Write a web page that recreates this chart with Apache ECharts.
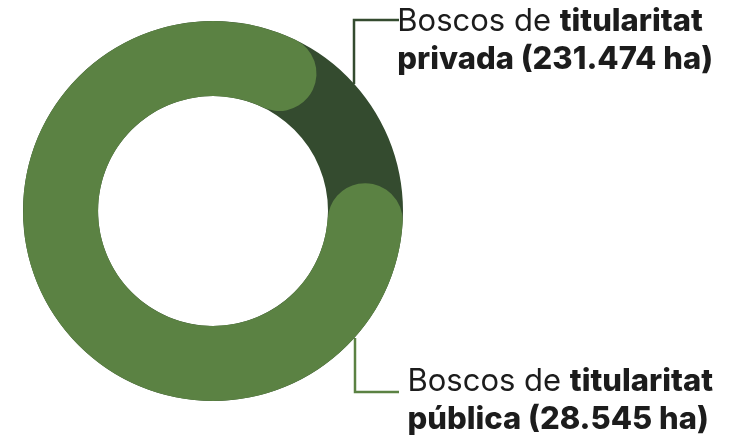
<!DOCTYPE html>
<html>
<head>
<meta charset="utf-8">
<script src="https://cdn.jsdelivr.net/npm/echarts@6/dist/echarts.min.js"></script>
<style>
  html, body { margin: 0; padding: 0; background: #fff; }
  #chart { width: 733px; height: 435px; }
</style>
</head>
<body>
<div id="chart"></div>
<script>
// Data
var categories = ['privada', 'pública'];
var area_ha = [231474, 28545];

var light_green = '#5b8243';
var dark_green = '#344b2f';
var text_color = '#1c1c1c';

function fmt_ha(v) {
    return String(v).replace(/\B(?=(\d{3})+(?!\d))/g, '.');
}

function label_text(i) {
    return 'Boscos de {b|titularitat}\n{b|' + categories[i] + ' (' + fmt_ha(area_ha[i]) + ' ha)}';
}

var chart = echarts.init(document.getElementById('chart'));

var total_ha = area_ha.reduce(function (a, b) { return a + b; }, 0);

var ring_data = categories.map(function (c, i) {
    return { name: c, value: area_ha[i] };
});

var label_style = {
    fill: text_color,
    align: 'right',
    font: '400 31px Inter',
    lineHeight: 38,
    rich: { b: { fontWeight: 800, fontSize: 31, fontFamily: 'Inter', lineHeight: 38, fill: text_color } }
};

var option = {
    animation: false,
    series: [
        {
            // dark base ring (whole total, one piece so no seams)
            type: 'pie',
            center: [213, 211],
            radius: [115, 190],
            silent: true,
            label: { show: false },
            labelLine: { show: false },
            itemStyle: { color: dark_green, borderWidth: 0 },
            data: [{ name: 'total', value: total_ha }]
        },
        {
            // light segment with round ends on top
            type: 'pie',
            center: [213, 211],
            radius: [115, 190],
            startAngle: 10.6,
            silent: true,
            label: { show: false },
            labelLine: { show: false },
            itemStyle: { borderRadius: 40, borderWidth: 0 },
            data: ring_data.map(function (d, i) {
                return {
                    name: d.name,
                    value: d.value,
                    itemStyle: { color: i == 0 ? light_green : 'rgba(0,0,0,0)' }
                };
            })
        }
    ],
    graphic: [
        {
            type: 'polyline',
            shape: { points: [[354, 84], [354, 20], [399, 20]] },
            style: { stroke: dark_green, lineWidth: 2.5, fill: null }
        },
        {
            type: 'polyline',
            shape: { points: [[355, 338], [355, 392], [399, 392]] },
            style: { stroke: light_green, lineWidth: 2.5, fill: null }
        },
        {
            type: 'text',
            right: 20,
            top: 3,
            style: Object.assign({ text: label_text(0) }, label_style)
        },
        {
            type: 'text',
            right: 20,
            top: 363,
            style: Object.assign({ text: label_text(1) }, label_style)
        }
    ]
};

chart.setOption(option);
</script>
</body>
</html>
